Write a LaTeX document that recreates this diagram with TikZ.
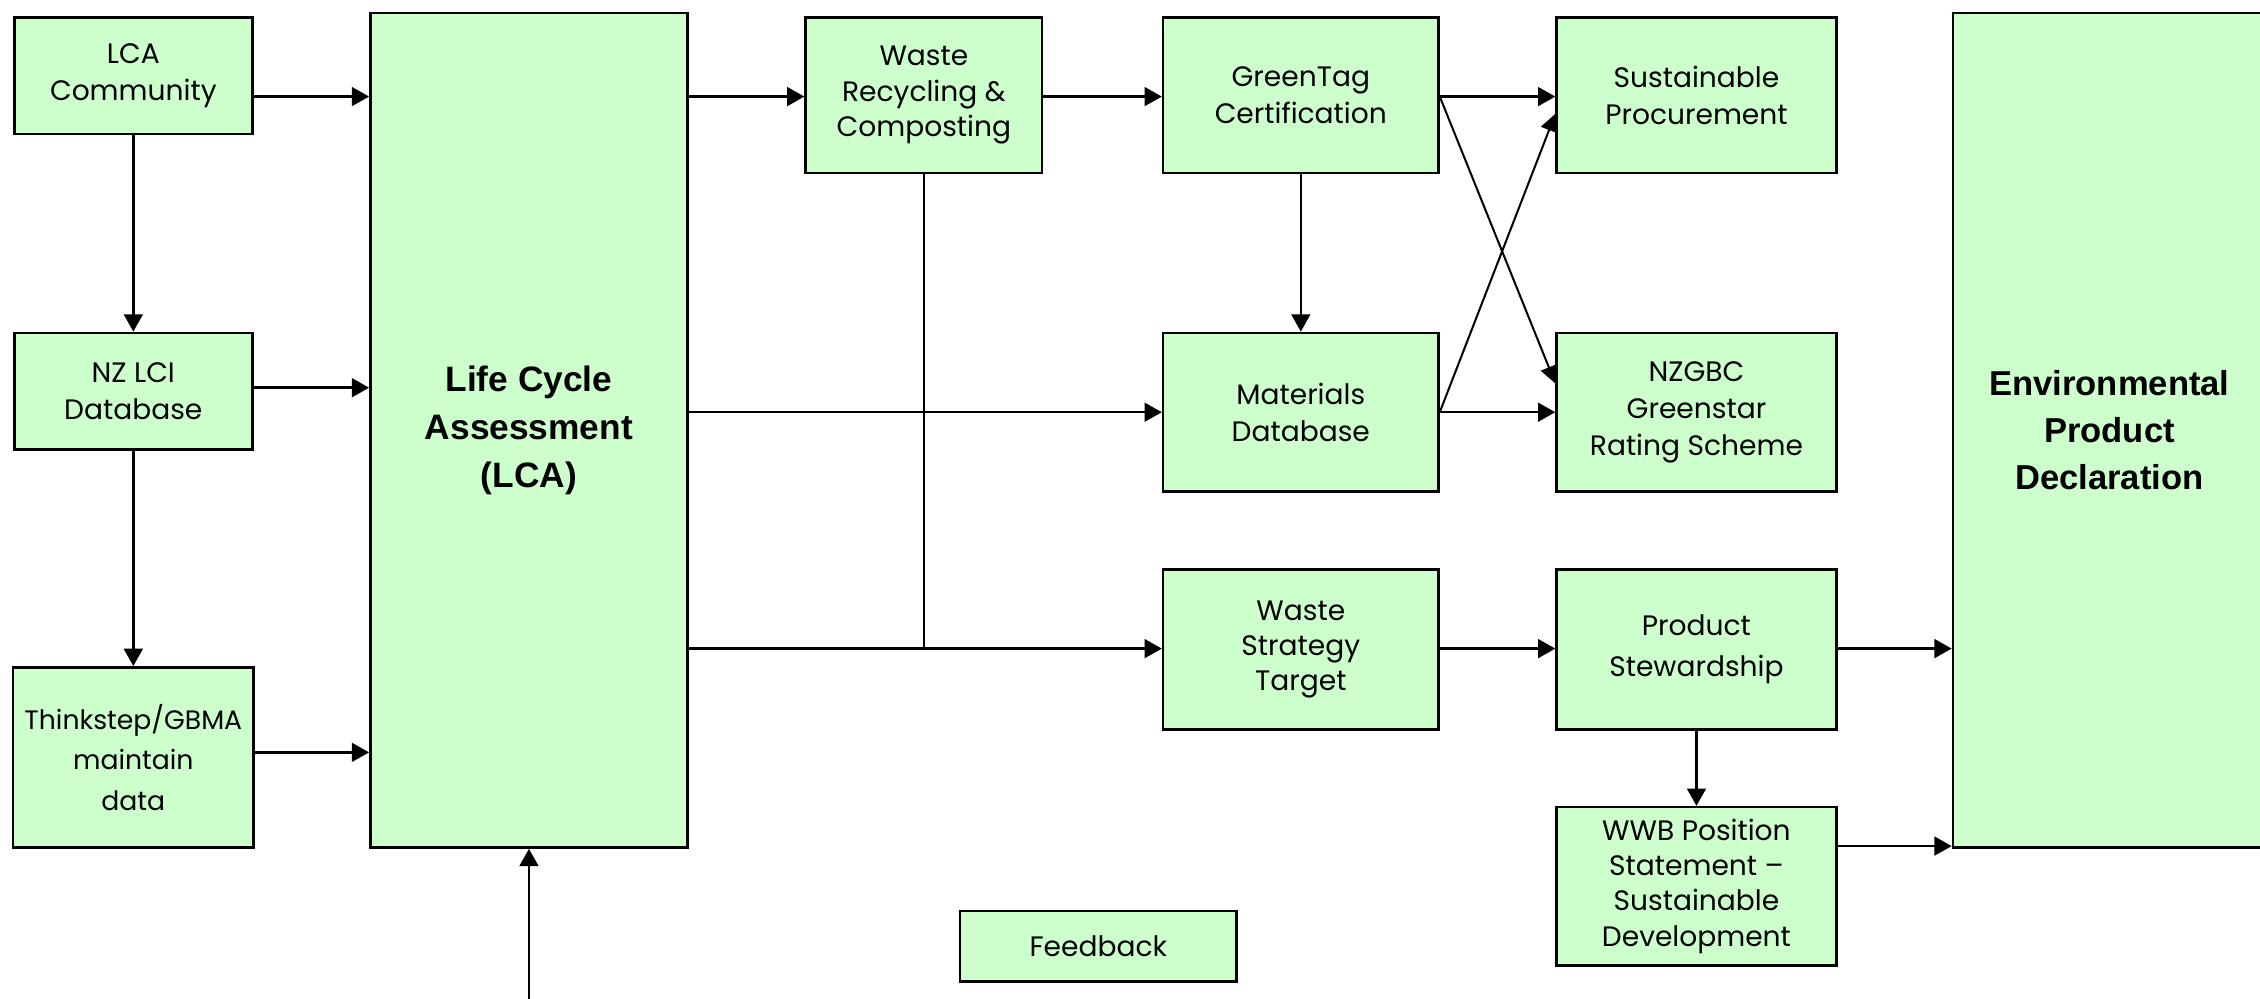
\documentclass[tikz,border=0pt]{standalone}
\usepackage{fontspec}
\setmainfont{Poppins}
\newfontfamily\arialf{Liberation Sans}
\usetikzlibrary{arrows.meta,calc}
\definecolor{boxgreen}{RGB}{204,255,204}
\tikzset{
  box/.style={draw=black, line width=1.8pt, fill=boxgreen, inner sep=0pt, align=center,
    font=\fontsize{19.5}{25.5}\selectfont},
  bigbox/.style={box, font=\arialf\bfseries\fontsize{24.5}{33.5}\selectfont},
  arr/.style={line width=1.7pt, -{Triangle[length=12pt,width=13pt]}},
  darr/.style={line width=1.4pt, -{Triangle[length=12pt,width=12pt]}},
  ln/.style={line width=1.7pt}
}
\begin{document}
\begin{tikzpicture}[x=1pt,y=-1pt]
\useasboundingbox (0,0) rectangle (1568,693);
% left column
\node[box, minimum width=165pt, minimum height=81pt] (lcacom) at (92.5,52.5) {LCA\\Community};
\node[box, minimum width=165pt, minimum height=81pt] (nzlci) at (92.5,271.5) {NZ LCI\\Database};
\node[box, minimum width=167pt, minimum height=125pt, font=\fontsize{18.5}{28}\selectfont] (think) at (92.5,525.5) {Thinkstep/GBMA\\maintain\\data};
% LCA
\node[bigbox, minimum width=220pt, minimum height=579pt] (lca) at (367,298.5) {Life Cycle\\Assessment\\(LCA)};
% middle
\node[box, minimum width=164pt, minimum height=108pt, font=\fontsize{19.5}{24.5}\selectfont] (wrc) at (641,66) {Waste\\Recycling \&\\Composting};
\node[box, minimum width=191pt, minimum height=108pt] (gtag) at (902.5,66) {GreenTag\\Certification};
\node[box, minimum width=191pt, minimum height=110pt] (mat) at (902.5,286) {Materials\\Database};
\node[box, minimum width=191pt, minimum height=111pt, font=\fontsize{19.5}{24.5}\selectfont] (wst) at (902.5,450.5) {Waste\\Strategy\\Target};
\node[box, minimum width=192pt, minimum height=49pt] (fb) at (762,656.5) {Feedback};
% right
\node[box, minimum width=194pt, minimum height=108pt] (sp) at (1177,66) {Sustainable\\Procurement};
\node[box, minimum width=194pt, minimum height=110pt] (nzgbc) at (1177,286) {NZGBC\\Greenstar\\Rating Scheme};
\node[box, minimum width=194pt, minimum height=111pt, font=\fontsize{19.5}{28}\selectfont] (ps) at (1177,450.5) {Product\\Stewardship};
\node[box, minimum width=194pt, minimum height=110pt, font=\fontsize{19.5}{24.3}\selectfont] (wwb) at (1177,615) {WWB Position\\Statement –\\Sustainable\\Development};
\node[bigbox, minimum width=217pt, minimum height=579pt, font=\arialf\bfseries\fontsize{24}{32.5}\selectfont] (epd) at (1463.5,298.5) {Environmental\\Product\\Declaration};
% levels
\coordinate (r1) at (0,67);
\coordinate (r2) at (0,286);
\coordinate (rn) at (0,269);
\coordinate (rt) at (0,522);
\coordinate (r3) at (0,450);
\coordinate (r4) at (0,587);
\coordinate (d1) at (0,266);
\coordinate (d2) at (0,79);
\coordinate (bot) at (0,693);
\coordinate (join) at (wrc.south |- r3);
% connectors
\draw[arr] (lcacom.south) -- (nzlci.north);
\draw[arr] (nzlci.south) -- (think.north);
\draw[arr] (lcacom.east |- r1) -- (lca.west |- r1);
\draw[arr] (nzlci.east |- rn) -- (lca.west |- rn);
\draw[arr] (think.east |- rt) -- (lca.west |- rt);
\draw[arr] (lca.south |- bot) -- (lca.south);
\draw[arr] (lca.east |- r1) -- (wrc.west |- r1);
\draw[arr] (wrc.east |- r1) -- (gtag.west |- r1);
\draw[arr] (gtag.east |- r1) -- (sp.west |- r1);
\draw[arr] (gtag.south) -- (mat.north);
\draw[arr] (lca.east |- r2) -- (mat.west |- r2);
\draw[arr] (mat.east |- r2) -- (nzgbc.west |- r2);
\draw[darr] (gtag.east |- r1) -- (nzgbc.west |- d1);
\draw[darr] (mat.east |- r2) -- (sp.west |- d2);
\draw[ln] (wrc.south) -- (join);
\draw[arr] (lca.east |- r3) -- (wst.west |- r3);
\draw[arr] (wst.east |- r3) -- (ps.west |- r3);
\draw[arr] (ps.east |- r3) -- (epd.west |- r3);
\draw[arr] (ps.south) -- (wwb.north);
\draw[arr] (wwb.east |- r4) -- (epd.west |- r4);
\end{tikzpicture}
\end{document}
